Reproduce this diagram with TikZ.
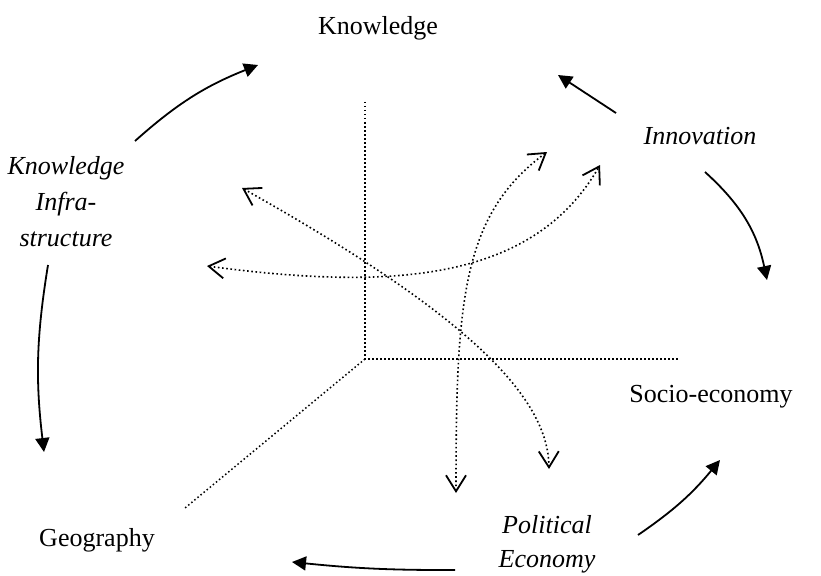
\documentclass[tikz,border=0pt]{standalone}
\usepackage{fontspec}
\setmainfont{Liberation Serif}
\usetikzlibrary{arrows.meta}

\tikzset{
  lbl/.style={font=\fontsize{26}{30}\selectfont, inner sep=0pt},
  ilbl/.style={lbl, font=\fontsize{26}{30}\selectfont\itshape, align=center},
  flow/.style={line width=1.8pt, -{Triangle[length=14pt,width=14pt]}},
  axis/.style={line width=1.5pt, dash pattern=on 1.5pt off 2.5pt},
  link/.style={line width=1.6pt, dash pattern=on 1.6pt off 2.6pt, {Straight Barb[length=16pt,width=20pt,line width=1.8pt]}-{Straight Barb[length=16pt,width=20pt,line width=1.8pt]}}
}

\begin{document}
\begin{tikzpicture}[x=1pt,y=-1pt]
\useasboundingbox (0,0) rectangle (821,575);

\node[lbl] (know) at (378,28) {Knowledge};
\node[ilbl] (innov) at (700,136) {Innovation};
\node[lbl] (socio) at (711,397) {Socio-economy};
\node[ilbl] (polec) at (547,544) {Political\\[4pt]Economy};
\node[lbl] (geo) at (97,540) {Geography};
\node[ilbl] (kinfra) at (66,202) {Knowledge\\[6pt]Infra-\\[6pt]structure};

\coordinate (o) at (365,359);
\coordinate (zt) at (365,102);
\coordinate (xe) at (678,359);
\coordinate (ye) at (185,508);
\draw[axis] (zt) -- (o) -- (xe);
\draw[axis] (o) -- (ye);

\coordinate (ki1) at (135,141);
\coordinate (kn1) at (258,65);
\coordinate (in1) at (616,113);
\coordinate (kn2) at (558,75);
\coordinate (in2) at (705,172);
\coordinate (so1) at (767,280);
\coordinate (pe1) at (638,535);
\coordinate (so2) at (720,460);
\coordinate (pe2) at (455,570);
\coordinate (ge1) at (292,562);
\coordinate (ki2) at (48,265);
\coordinate (ge2) at (44,452);
\draw[flow] (ki1) to[bend left=10] (kn1);
\draw[flow] (in1) -- (kn2);
\draw[flow] (in2) to[bend left=18] (so1);
\draw[flow] (pe1) to[bend right=8] (so2);
\draw[flow] (pe2) to[bend left=3] (ge1);
\draw[flow] (ki2) to[bend right=8] (ge2);

\coordinate (a1) at (242,188);
\coordinate (a2) at (549,469);
\coordinate (b1) at (207,266);
\coordinate (b2) at (600,165);
\coordinate (c1) at (456,493);
\coordinate (c2) at (547,152);
\draw[link] (a1) .. controls (450,305) and (548,390) .. (a2);
\draw[link] (b1) .. controls (400,292) and (535,278) .. (b2);
\draw[link] (c1) .. controls (456,300) and (462,215) .. (c2);
\end{tikzpicture}
\end{document}
